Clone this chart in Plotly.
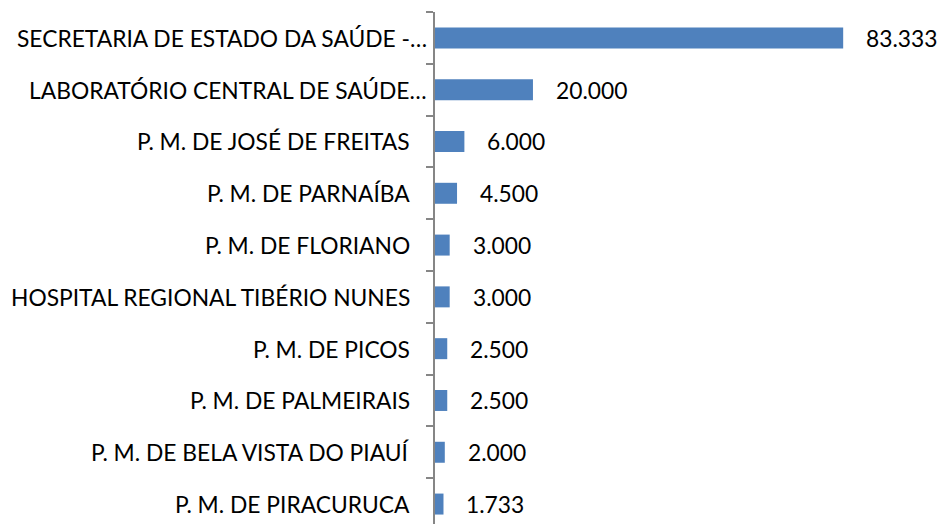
import plotly.graph_objects as go

categories = [
    "SECRETARIA DE ESTADO DA SAÚDE -…",
    "LABORATÓRIO CENTRAL DE SAÚDE…",
    "P. M. DE JOSÉ DE FREITAS",
    "P. M. DE PARNAÍBA",
    "P. M. DE FLORIANO",
    "HOSPITAL REGIONAL TIBÉRIO NUNES",
    "P. M. DE PICOS",
    "P. M. DE PALMEIRAIS",
    "P. M. DE BELA VISTA DO PIAUÍ",
    "P. M. DE PIRACURUCA",
]
values = [83333, 20000, 6000, 4500, 3000, 3000, 2500, 2500, 2000, 1733]

def fmt(v):
    return f"{v:,}".replace(",", ".")

FONT = "Lato, Open Sans, sans-serif"
FS = 22.8

fig = go.Figure(go.Bar(
    x=values, y=categories, orientation="h",
    marker=dict(color="#4F81BD", line=dict(width=0)),
    hoverinfo="skip",
))

for c, v in zip(categories, values):
    # value label
    fig.add_annotation(x=v, y=c, text=fmt(v), showarrow=False,
                       xanchor="left", yanchor="middle", xshift=21,
                       font=dict(family=FONT, size=FS, color="#000000"))
    # category label (truncated labels sit closer to the axis)
    fig.add_annotation(x=0, y=c, text=c, showarrow=False,
                       xanchor="right", yanchor="middle",
                       xshift=-6 if c.endswith("…") else -23,
                       font=dict(family=FONT, size=FS, color="#000000"))

fig.update_layout(
    width=940, height=524,
    margin=dict(l=435, r=0, t=12, b=0, autoexpand=False),
    paper_bgcolor="white", plot_bgcolor="white",
    bargap=0.595,
    showlegend=False,
    font=dict(family=FONT, size=FS, color="#000000"),
)
fig.update_xaxes(range=[0, 103100], visible=False, showgrid=False, zeroline=False,
                 automargin=False)
fig.update_yaxes(
    type="category", range=[9.385, -0.5], automargin=False,
    showline=True, linecolor="#868686", linewidth=1.5,
    ticks="outside", tickson="boundaries", ticklen=7, tickcolor="#868686", tickwidth=1.5,
    showticklabels=False,
    showgrid=False, zeroline=False,
)

fig.write_html("out.html", config={"displayModeBar": False},
               post_script="document.body.style.margin='0';document.body.style.overflow='hidden';")
